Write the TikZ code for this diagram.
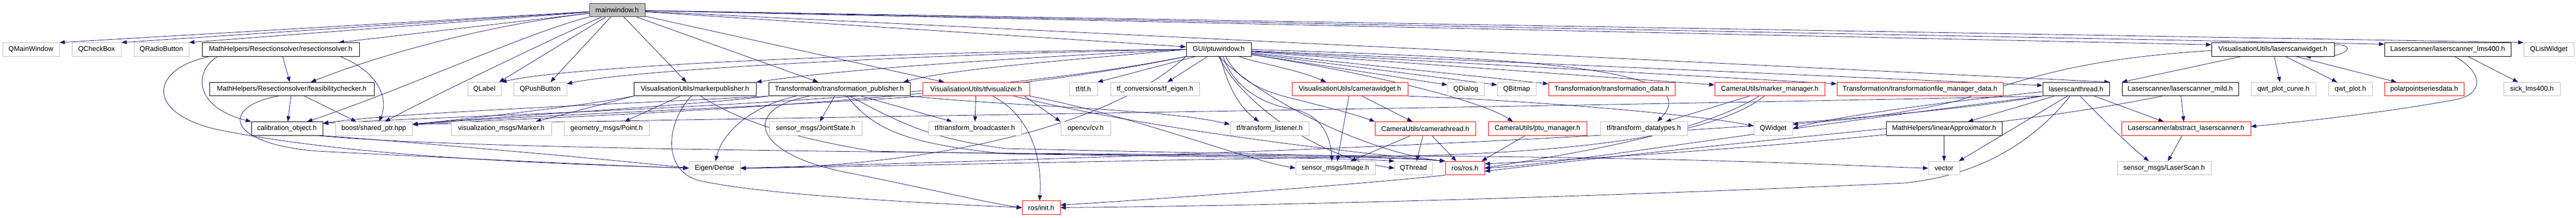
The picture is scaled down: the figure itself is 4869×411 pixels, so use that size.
\documentclass[tikz,border=0pt]{standalone}
\usepackage{fontspec}
\setmainfont{Liberation Sans}
\usetikzlibrary{arrows.meta}
\definecolor{edgec}{HTML}{191970}
\definecolor{grayb}{HTML}{BFBFBF}
\definecolor{mainfill}{HTML}{BFBFBF}
\pgfdeclarelayer{edgelayer}
\pgfsetlayers{edgelayer,main}
\newcommand{\nd}[6]{\node[#1, minimum width={(#4-#3)*1pt}] (#2) at ({(#3+#4)/2},#5) {#6};}
\begin{document}
\begin{tikzpicture}[x=1pt,y=-1pt, font=\fontsize{13}{15}\selectfont,
 nb/.style={draw=black, line width=0.9pt, fill=white, inner sep=0pt, minimum height=25.5pt},
 ng/.style={nb, draw=grayb},
 nr/.style={nb, draw=red},
 nm/.style={nb, fill=mainfill, draw=black!75},
 e/.style={draw=edgec, line width=0.8pt, -{Triangle[length=10pt,width=7.5pt]}}]
\useasboundingbox (0,0) rectangle (4869,411);
\def\ra{19}\def\rb{93.3}\def\rc{168}\def\rd{242.5}\def\re{317}\def\rf{391.5}
% row 1
\nd{nm}{mw}{1114}{1219}{\ra}{mainwindow.h}
% row 2
\nd{ng}{qmw}{5}{112}{\rb}{QMainWindow}
\nd{ng}{qcb}{136}{229}{\rb}{QCheckBox}
\nd{ng}{qrb}{253}{357}{\rb}{QRadioButton}
\nd{nb}{rs}{382}{679}{\rb}{MathHelpers/Resectionsolver/resectionsolver.h}
\nd{nb}{pw}{2242}{2365}{\rb}{GUI/ptuwindow.h}
\nd{nb}{lw}{4180}{4412}{\rb}{VisualisationUtils/laserscanwidget.h}
\nd{nb}{lms}{4507}{4746}{\rb}{Laserscanner/laserscanner\_lms400.h}
\nd{ng}{qlw}{4770}{4865}{\rb}{QListWidget}
% row 3
\nd{nb}{fc}{396}{707}{\rc}{MathHelpers/Resectionsolver/feasibilitychecker.h}
\nd{ng}{qlab}{884}{947}{\rc}{QLabel}
\nd{ng}{qpb}{971}{1071}{\rc}{QPushButton}
\nd{nb}{mp}{1198}{1429}{\rc}{VisualisationUtils/markerpublisher.h}
\nd{nb}{tp}{1453}{1720}{\rc}{Transformation/transformation\_publisher.h}
\nd{nr}{tv}{1744}{1946}{\rc}{VisualisationUtils/tfvisualizer.h}
\nd{ng}{tftf}{2021}{2074}{\rc}{tf/tf.h}
\nd{ng}{tfe}{2099}{2267}{\rc}{tf\_conversions/tf\_eigen.h}
\nd{nr}{cw}{2442}{2661}{\rc}{VisualisationUtils/camerawidget.h}
\nd{ng}{qdl}{2736}{2805}{\rc}{QDialog}
\nd{ng}{qbm}{2830}{2903}{\rc}{QBitmap}
\nd{nr}{td}{2927}{3166}{\rc}{Transformation/transformation\_data.h}
\nd{nr}{mm}{3241}{3449}{\rc}{CameraUtils/marker\_manager.h}
\nd{nr}{tfm}{3472}{3786}{\rc}{Transformation/transformationfile\_manager\_data.h}
\nd{nb}{lt}{3861}{3987}{\rc}{laserscanthread.h}
\nd{nb}{lm}{4011}{4231}{\rc}{Laserscanner/laserscanner\_mild.h}
\nd{ng}{qpc}{4255}{4377}{\rc}{qwt\_plot\_curve.h}
\nd{ng}{qp}{4401}{4484}{\rc}{qwt\_plot.h}
\nd{nr}{pp}{4507}{4657}{\rc}{polarpointseriesdata.h}
\nd{ng}{sick}{4732}{4839}{\rc}{sick\_lms400.h}
% row 4
\nd{nb}{co}{475}{610}{\rd}{calibration\_object.h}
\nd{ng}{bst}{634}{779}{\rd}{boost/shared\_ptr.hpp}
\nd{ng}{vm}{853}{1042}{\rd}{visualization\_msgs/Marker.h}
\nd{ng}{gp}{1066}{1227}{\rd}{geometry\_msgs/Point.h}
\nd{ng}{js}{1454}{1629}{\rd}{sensor\_msgs/JointState.h}
\nd{ng}{tb}{1755}{1930}{\rd}{tf/transform\_broadcaster.h}
\nd{ng}{cv}{2005}{2099}{\rd}{opencv/cv.h}
\nd{ng}{tl}{2325}{2474}{\rd}{tf/transform\_listener.h}
\nd{nr}{ct}{2599}{2789}{\rd}{CameraUtils/camerathread.h}
\nd{nr}{pm}{2813}{2999}{\rd}{CameraUtils/ptu\_manager.h}
\nd{ng}{tdt}{3025}{3189}{\rd}{tf/transform\_datatypes.h}
\nd{ng}{qw}{3315}{3388}{\rd}{QWidget}
\nd{nb}{la}{3565}{3784}{\rd}{MathHelpers/linearApproximator.h}
\nd{nr}{al}{4010}{4254}{\rd}{Laserscanner/abstract\_laserscanner.h}
% row 5
\nd{ng}{eig}{1302}{1399}{\re}{Eigen/Dense}
\nd{ng}{img}{2449}{2599}{\re}{sensor\_msgs/Image.h}
\nd{ng}{qth}{2636}{2707}{\re}{QThread}
\nd{nr}{ros}{2732}{2806}{\re}{ros/ros.h}
\nd{ng}{vec}{3645}{3704}{\re}{vector}
\nd{ng}{ls}{4002}{4179}{\re}{sensor\_msgs/LaserScan.h}
% row 6
\nd{nr}{init}{1932}{2004}{\rf}{ros/init.h}

\begin{pgfonlayer}{edgelayer}
% ---- edges from mainwindow.h
\draw[e] (mw) -- (qmw.north east);
\draw[e] (mw) -- (qcb.north east);
\draw[e] (mw) -- (qrb.north east);
\draw[e] (mw) -- ([xshift=-39pt]rs.north east);
\draw[e] (mw) .. controls (900,50) and (700,110) .. ([xshift=-120pt]fc.north east);
\draw[e] (mw) .. controls (1000,60) and (760,170) .. ([xshift=-30pt]co.north east);
\draw[e] (mw) .. controls (1050,70) and (820,180) .. ([xshift=-52pt]bst.north east);
\draw[e] (mw) -- ([xshift=-4pt]qlab.north east);
\draw[e] (mw) -- ([xshift=-31pt]qpb.north east);
\draw[e] (mw) -- ([xshift=-132pt]mp.north east);
\draw[e] (mw) -- ([xshift=94pt]tp.north west);
\draw[e] (mw) -- ([xshift=41pt]tv.north west);
\draw[e] (mw) -- ([yshift=5pt]pw.west);
\draw[e] (mw) -- ([yshift=9pt]lw.west);
\draw[e] (mw) -- ([yshift=10pt]lms.west);
\draw[e] (mw) -- (qlw.north west);
\draw[e] (mw) -- (lt.north east);
% ---- resectionsolver.h
\draw[e] (rs) -- (fc);
\draw[e] ([xshift=-37pt]rs.south east) .. controls (715,135) and (735,185) .. ([xshift=83pt]bst.north west);
\draw[e] ([xshift=30pt]rs.south west) .. controls (370,130) and (360,200) .. (co.north west);
\draw[e] ([xshift=15pt]rs.south west) .. controls (280,130) and (270,220) .. (430,248) .. controls (700,300) and (1100,310) .. (eig.west);
% ---- feasibilitychecker.h
\draw[e] (fc) -- (co);
\draw[e] ([xshift=180pt]fc.south west) -- ([xshift=40pt]bst.north west);
\draw[e] ([xshift=130pt]fc.south west) .. controls (420,200) and (420,270) .. (600,285) .. controls (900,300) and (1150,312) .. (eig.west);
% ---- calibration_object.h
\draw[e] (co.south east) .. controls (800,270) and (1150,300) .. (eig.west);
\draw[e] ([xshift=-10pt]co.south east) .. controls (900,285) and (2000,290) .. (2800,295) .. controls (3300,300) and (3550,315) .. (vec.west);
% ---- markerpublisher.h
\draw[e] (mp.south west) -- ([xshift=-30pt]vm.north east);
\draw[e] ([xshift=88pt]mp.south west) -- ([xshift=-47pt]gp.north east);
\draw[e] ([xshift=109pt]mp.south west) .. controls (1260,230) and (1250,320) .. (1320,340) .. controls (1450,370) and (1800,385) .. (init.west);
\draw[e] ([xshift=127pt]mp.south west) .. controls (1400,230) and (1500,260) .. (1650,285) .. controls (2100,295) and (2600,292) .. (ros.north west);
\draw[e] (mp.south west) .. controls (1100,200) and (900,222) .. ([yshift=8pt]bst.east);
% ---- transformation_publisher.h
\draw[e] ([xshift=125pt]tp.south west) -- ([xshift=96pt]js.north west);
\draw[e] ([xshift=52pt]tp.south west) .. controls (1420,200) and (1365,250) .. ([xshift=51pt]eig.north west);
\draw[e] ([xshift=77pt]tp.south west) .. controls (1400,205) and (1420,290) .. (1600,325) .. controls (1750,355) and (1880,385) .. (init.west);
\draw[e] ([xshift=-93pt]tp.south east) -- ([xshift=45pt]tb.north west);
\draw[e] ([xshift=-115pt]tp.south east) .. controls (1700,230) and (1750,260) .. (1900,280) .. controls (2300,290) and (2600,292) .. (ros.north west);
\draw[e] ([xshift=-120pt]tp.south east) .. controls (1650,240) and (1700,270) .. (1900,290) .. controls (2300,296) and (2550,298) .. (qth.north west);
\draw[e] (tp.south west) .. controls (1300,200) and (900,222) .. ([yshift=8pt]bst.east);
\draw[e] (tp.south west) .. controls (1200,195) and (750,212) .. ([yshift=10pt]co.east);
\draw[e] (tp.south east) .. controls (1900,200) and (2200,205) .. ([yshift=8pt]tl.west);
% ---- tfvisualizer.h
\draw[e] (tv) -- (tb);
\draw[e] ([xshift=133pt]tv.south west) .. controls (1950,220) and (1970,300) .. ([xshift=-3pt]init.north);
\draw[e] ([xshift=-10pt]tv.south east) -- (cv.north west);
\draw[e] ([xshift=-30pt]tv.south east) .. controls (2200,250) and (2600,292) .. (ros.north west);
\draw[e] (tv.south east) .. controls (2150,220) and (2350,300) .. (img.west);
\draw[e] (tv.south west) .. controls (1500,200) and (900,222) .. ([yshift=8pt]bst.east);
% ---- ptuwindow.h
\draw[e] ([xshift=18pt]pw.south west) -- (tftf.north east);
\draw[e] ([xshift=41pt]pw.south west) -- ([xshift=108pt]tfe.north west);
\draw[e] ([xshift=65pt]pw.south west) .. controls (2320,160) and (2340,200) .. ([xshift=55pt]tl.north west);
\draw[e] ([xshift=75pt]pw.south west) .. controls (2340,150) and (2380,170) .. (2440,185) .. controls (2500,200) and (2560,215) .. (ct.north west);
\draw[e] ([xshift=70pt]pw.south west) .. controls (2330,160) and (2380,195) .. (2440,205) .. controls (2500,215) and (2515,260) .. ([xshift=69pt]img.north west);
\draw[e] ([xshift=100pt]pw.south west) .. controls (2380,120) and (2450,130) .. ([xshift=65pt]cw.north west);
\draw[e] (pw) -- ([yshift=8pt]qdl.west);
\draw[e] (pw) -- ([yshift=8pt]qbm.west);
\draw[e] (pw) -- ([yshift=10pt]td.west);
\draw[e] (pw) -- ([yshift=8pt]mm.west);
\draw[e] (pw) -- ([yshift=10pt]tfm.west);
\draw[e] (pw) -- ([yshift=7pt]lt.west);
\draw[e] (pw) .. controls (2600,140) and (2800,190) .. ([xshift=47pt]pm.north west);
\draw[e] (pw.east) .. controls (2900,110) and (3230,130) .. ([xshift=108pt]tdt.north west);
\draw[e] (pw.west) .. controls (1800,95) and (1100,120) .. (qlab.north east);
\draw[e] (pw.west) .. controls (1800,100) and (1200,130) .. ([yshift=10pt]qpb.east);
\draw[e] (pw.west) .. controls (1900,110) and (1600,130) .. (mp.north east);
\draw[e] (pw.west) .. controls (2000,115) and (1800,130) .. ([xshift=-13pt]tp.north east);
\draw[e] (pw.south west) .. controls (1800,195) and (1000,212) .. ([yshift=10pt]co.east);
\draw[e] (pw.south west) .. controls (1800,200) and (1000,222) .. ([yshift=8pt]bst.east);
\draw[e] (pw.south west) .. controls (2050,280) and (1600,318) .. (eig.east);
\draw[e] (pw.south) .. controls (2350,200) and (2500,300) .. (qth.west);
\draw[e] (pw.south) .. controls (2400,200) and (2600,290) .. (ros.north west);
% ---- camerawidget.h
\draw[e] ([xshift=108pt]cw.south west) -- ([xshift=79pt]img.north west);
\draw[e] ([xshift=133pt]cw.south west) -- ([xshift=71pt]ct.north west);
\draw[e] (cw.south east) .. controls (2900,190) and (3200,215) .. ([yshift=5pt]qw.west);
% ---- camerathread.h
\draw[e] ([xshift=68pt]ct.south west) -- ([xshift=104pt]img.north west);
\draw[e] ([xshift=91pt]ct.south west) -- ([xshift=42pt]qth.north west);
\draw[e] ([xshift=108pt]ct.south west) -- ([xshift=21pt]ros.north west);
% ---- ptu_manager.h
\draw[e] ([xshift=70pt]pm.south west) -- ([xshift=-6pt]ros.north east);
% ---- marker_manager.h
\draw[e] ([xshift=66pt]mm.south west) -- ([xshift=-41pt]tdt.north east);
\draw[e] ([xshift=84pt]mm.south west) .. controls (3200,260) and (2900,300) .. (ros.east);
\draw[e] ([xshift=94pt]mm.south west) .. controls (3250,250) and (3000,290) .. (2600,295) .. controls (2000,305) and (1600,315) .. (eig.east);
% ---- laserscanthread.h
\draw[e] ([xshift=22pt]lt.south west) -- ([xshift=155pt]la.north west);
\draw[e] ([xshift=47pt]lt.south west) -- ([xshift=-2pt]vec.north east);
\draw[e] ([xshift=52pt]lt.south west) .. controls (3850,260) and (3750,330) .. (3600,345) .. controls (3000,372) and (2400,388) .. (init.east);
\draw[e] ([xshift=71pt]lt.south west) .. controls (3990,240) and (4020,270) .. ([xshift=60pt]ls.north west);
\draw[e] ([xshift=-29pt]lt.south east) -- ([xshift=80pt]al.north west);
\draw[e] (lt.south west) .. controls (3000,200) and (1500,222) .. ([yshift=8pt]bst.east);
\draw[e] (lt.south west) .. controls (3400,260) and (2000,300) .. (eig.east);
\draw[e] (lt.south west) .. controls (3300,250) and (2950,310) .. (ros.east);
\draw[e] ([yshift=-5pt]lt.west) .. controls (3600,200) and (3450,225) .. (qw.east);
% ---- linearApproximator.h
\draw[e] (la) -- (vec);
\draw[e] (la.west) .. controls (3300,268) and (3000,300) .. ([yshift=-6pt]ros.east);
% ---- laserscanner_mild.h
\draw[e] ([xshift=112pt]lm.south west) -- ([xshift=118pt]al.north west);
\draw[e] ([xshift=76pt]lm.south west) .. controls (3700,260) and (3000,300) .. ([yshift=8pt]ros.east);
% ---- abstract_laserscanner.h
\draw[e] ([xshift=115pt]al.south west) -- ([xshift=96pt]ls.north west);
% ---- laserscanwidget.h
\draw[e] ([xshift=119pt]lw.south west) -- ([xshift=55pt]qpc.north west);
\draw[e] ([xshift=140pt]lw.south west) -- ([xshift=17pt]qp.north west);
\draw[e] ([xshift=160pt]lw.south west) -- ([xshift=23pt]pp.north west);
\draw[e] ([xshift=57pt]lw.south west) -- (lm.north west);
\draw[e] ([yshift=-2pt]lw.west) .. controls (3950,110) and (3850,140) .. (3700,190) .. controls (3550,225) and (3450,228) .. ([yshift=8pt]qw.east);
\draw[e] ([yshift=8pt]lw.east) .. controls (4450,80) and (4450,110) .. ([xshift=-55pt]lw.south east);
% ---- laserscanner_lms400.h
\draw[e] ([xshift=158pt]lms.south west) -- ([xshift=28pt]sick.north west);
\draw[e] ([xshift=133pt]lms.south west) .. controls (4700,140) and (4690,180) .. (4640,188) .. controls (4550,205) and (4400,225) .. ([yshift=4pt]al.east);
% ---- ros.h
\draw[e] (ros.south west) .. controls (2600,345) and (2200,375) .. ([yshift=5pt]init.east);
\end{pgfonlayer}
\end{tikzpicture}
\end{document}
